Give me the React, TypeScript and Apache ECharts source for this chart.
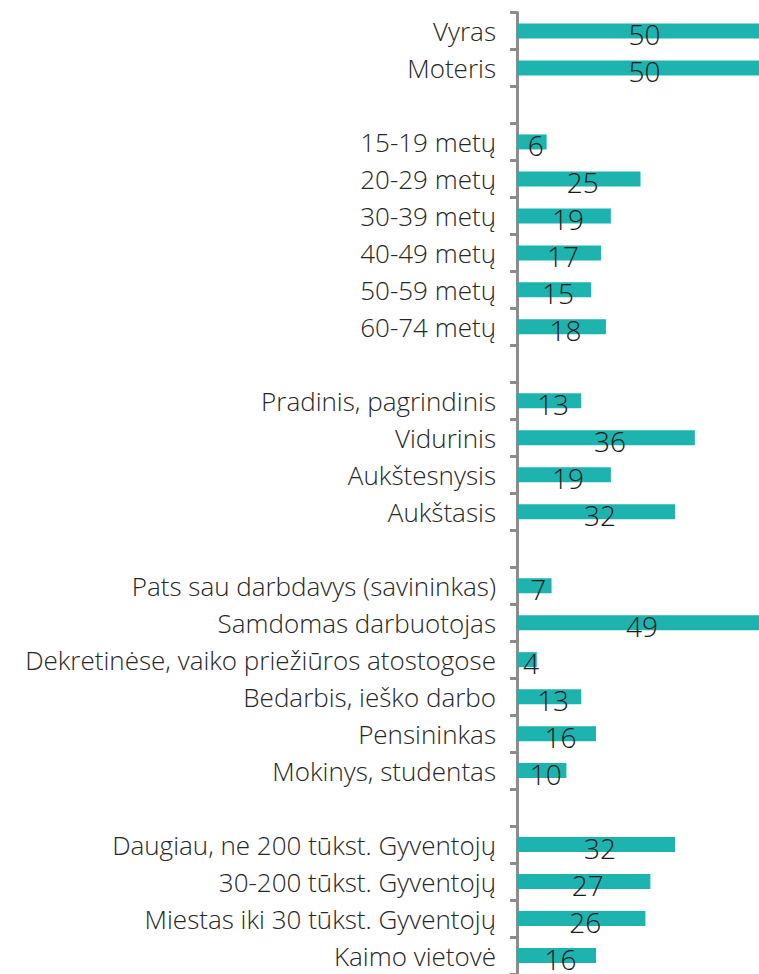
import React, { useEffect, useRef } from "react";
import * as echarts from "echarts";

const categories: string[] = [
  "Vyras",
  "Moteris",
  "",
  "15-19 metų",
  "20-29 metų",
  "30-39 metų",
  "40-49 metų",
  "50-59 metų",
  "60-74 metų",
  " ",
  "Pradinis, pagrindinis",
  "Vidurinis",
  "Aukštesnysis",
  "Aukštasis",
  "  ",
  "Pats sau darbdavys (savininkas)",
  "Samdomas darbuotojas",
  "Dekretinėse, vaiko priežiūros atostogose",
  "Bedarbis, ieško darbo",
  "Pensininkas",
  "Mokinys, studentas",
  "   ",
  "Daugiau, ne 200 tūkst. Gyventojų",
  "30-200 tūkst. Gyventojų",
  "Miestas iki 30 tūkst. Gyventojų",
  "Kaimo vietovė",
];

const values: (number | null)[] = [
  50, 50, null,
  6, 25, 19, 17, 15, 18, null,
  13, 36, 19, 32, null,
  7, 49, 4, 13, 16, 10, null,
  32, 27, 26, 16,
];

const xMin = 0;
const xMax = 50;

export default function App() {
  const ref = useRef<HTMLDivElement>(null);
  useEffect(() => {
    if (!ref.current) return;
    const chart = echarts.init(ref.current, undefined, { renderer: "svg" });
    chart.setOption({
      animation: false,
      grid: { left: 517, right: 26, top: 12.5, bottom: 0, containLabel: false },
      xAxis: {
        type: "value",
        min: xMin,
        max: xMax,
        show: false,
      },
      yAxis: {
        type: "category",
        inverse: true,
        data: categories,
        axisLine: { show: true, lineStyle: { color: "#8c8c8c", width: 3 } },
        axisTick: { show: true, length: 7, lineStyle: { color: "#8c8c8c", width: 3 } },
        axisLabel: {
          margin: 21,
          color: "#262626",
          fontFamily: "Open Sans",
          fontSize: 26,
          fontWeight: 300,
        },
        splitLine: { show: false },
      },
      series: [
        {
          type: "bar",
          data: values.map((v) => (v === null ? "-" : v)),
          barWidth: 15,
          itemStyle: { color: "#1db3af" },
          label: {
            show: true,
            position: "inside",
            offset: [4, 3],
            color: "#1a1a1a",
            fontFamily: "Open Sans",
            fontWeight: 300,
            fontSize: 28,
          },
        },
      ],
    });
    return () => chart.dispose();
  }, []);
  return (
    <div
      style={{
        position: "fixed",
        left: 0,
        top: 0,
        width: 759,
        height: 974,
        overflow: "hidden",
        background: "#fff",
      }}
    >
      <div ref={ref} style={{ width: 790, height: 974 }} />
    </div>
  );
}
